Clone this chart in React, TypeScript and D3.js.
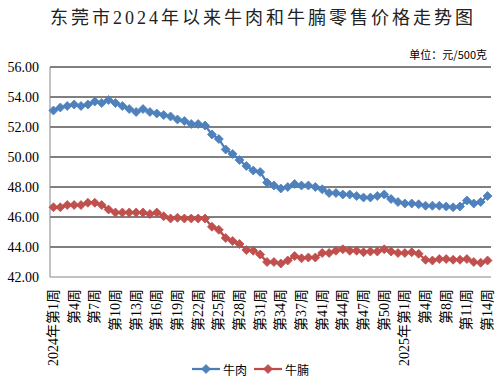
import React from "react";
import * as d3 from "d3";

const weeks2024 = [1,2,3,4,5,6,7,8,9,10,11,12,13,14,15,16,17,18,19,20,21,22,23,24,25,26,27,28,29,30,31,32,33,34,35,36,37,38,39,41,42,43,44,45,46,47,48,49,50,51,52];
const weeks2025 = [1,2,3,4,6,7,8,9,10,11,12,13,14];

const categories: string[] = [
  ...weeks2024.map((w, i) => (i === 0 ? `2024年第${w}周` : `第${w}周`)),
  ...weeks2025.map((w, i) => (i === 0 ? `2025年第${w}周` : `第${w}周`)),
];

const beef = [
  53.1, 53.3, 53.4, 53.5, 53.4, 53.5, 53.7, 53.6, 53.8, 53.6,
  53.4, 53.2, 53.0, 53.2, 53.0, 52.9, 52.8, 52.7, 52.5, 52.4,
  52.2, 52.2, 52.1, 51.5, 51.2, 50.5, 50.2, 49.8, 49.4, 49.1,
  49.0, 48.3, 48.1, 47.9, 48.0, 48.2, 48.1, 48.1, 48.0, 47.85,
  47.6, 47.6, 47.5, 47.5, 47.4, 47.3, 47.3, 47.4, 47.5, 47.2,
  47.0, 46.9, 46.9, 46.85, 46.75, 46.75, 46.75, 46.7, 46.65, 46.7,
  47.1, 46.9, 47.0, 47.4,
];

const brisket = [
  46.65, 46.65, 46.8, 46.8, 46.8, 46.95, 46.95, 46.8, 46.5, 46.3,
  46.3, 46.3, 46.3, 46.3, 46.2, 46.3, 46.05, 45.9, 45.95, 45.9,
  45.9, 45.9, 45.9, 45.35, 45.15, 44.6, 44.4, 44.2, 43.8, 43.75,
  43.5, 43.0, 43.0, 42.9, 43.1, 43.4, 43.25, 43.3, 43.3, 43.6,
  43.6, 43.75, 43.85, 43.75, 43.75, 43.65, 43.7, 43.7, 43.85, 43.7,
  43.6, 43.6, 43.65, 43.55, 43.15, 43.1, 43.2, 43.2, 43.15, 43.15,
  43.2, 43.0, 42.95, 43.1,
];

const yTicks = [42, 44, 46, 48, 50, 52, 54, 56];
const seriesNames = ["牛肉", "牛腩"];
const title = "东莞市2024年以来牛肉和牛腩零售价格走势图";
const unitText = "单位：元/500克";

const W = 500;
const H = 386;
const plot = { left: 50, right: 491, top: 67, bottom: 277 };

const BLUE = "#4A7EBB";
const BLUE_M = "#4F81BD";
const RED = "#BE4B48";
const RED_M = "#C0504D";

const serif = "'Liberation Serif', 'Noto Sans CJK SC', serif";
const sans = "'Noto Sans CJK SC', 'Noto Sans', sans-serif";

function diamond(r: number) {
  return `M0,${-r}L${r},0L0,${r}L${-r},0Z`;
}

export default function App() {
  const idx = categories.map((_, i) => i);
  const x = d3.scalePoint<number>().domain(idx).range([plot.left, plot.right]).padding(0.5);
  const y = d3.scaleLinear().domain([42, 56]).range([plot.bottom, plot.top]);

  const line = d3
    .line<number>()
    .x((_, i) => x(i) as number)
    .y((d) => y(d));

  const series = [
    { name: seriesNames[0], data: beef, stroke: BLUE, fill: BLUE_M },
    { name: seriesNames[1], data: brisket, stroke: RED, fill: RED_M },
  ];

  return (
    <svg width={W} height={H} style={{ position: "absolute", left: 0, top: 0, background: "#fff" }}>
      <rect x={0} y={0} width={W} height={H} fill="#fff" />
      <text x={50} y={24} fontSize={18} fontFamily={serif} fill="#222" textLength={423} lengthAdjust="spacing">
        {title}
      </text>
      <text x={487} y={59} fontSize={11} fontFamily={sans} fill="#000" textAnchor="end">
        {unitText}
      </text>

      {yTicks.map((t) => (
        <g key={t}>
          {t !== 42 && (
            <line x1={plot.left} x2={plot.right} y1={y(t)} y2={y(t)} stroke="#000" strokeWidth={1} />
          )}
          <text
            x={39}
            y={y(t)}
            fontSize={14}
            fontFamily={serif}
            textAnchor="end"
            dominantBaseline="central"
            fill="#000"
          >
            {t.toFixed(2)}
          </text>
        </g>
      ))}
      <line x1={plot.left} x2={plot.left} y1={plot.top} y2={plot.bottom} stroke="#868686" strokeWidth={1} />
      <line x1={plot.left} x2={plot.right} y1={plot.bottom} y2={plot.bottom} stroke="#868686" strokeWidth={1} />

      {categories.map((c, i) =>
        i % 3 === 0 ? (
          <text
            key={c + i}
            transform={`translate(${x(i)},289) rotate(-90)`}
            fontSize={14}
            fontFamily={serif}
            textAnchor="end"
            dominantBaseline="central"
            fill="#000"
          >
            {c}
          </text>
        ) : null
      )}

      {series.map((s) => (
        <g key={s.name}>
          <path d={line(s.data) || ""} fill="none" stroke={s.stroke} strokeWidth={2.25} />
          {s.data.map((v, i) => (
            <path
              key={i}
              d={diamond(4.5)}
              transform={`translate(${x(i)},${y(v)})`}
              fill={s.fill}
              stroke={s.stroke}
              strokeWidth={0.75}
            />
          ))}
        </g>
      ))}

      {series.map((s, k) => {
        const lx = k === 0 ? 192 : 254;
        const ly = 369;
        return (
          <g key={"lg" + s.name}>
            <line x1={lx} x2={lx + 28} y1={ly} y2={ly} stroke={s.stroke} strokeWidth={2.25} />
            <path d={diamond(4.5)} transform={`translate(${lx + 14},${ly})`} fill={s.fill} stroke={s.stroke} strokeWidth={0.75} />
            <text x={lx + 31} y={ly} fontSize={12} fontFamily={sans} dominantBaseline="central" fill="#000">
              {s.name}
            </text>
          </g>
        );
      })}
    </svg>
  );
}
